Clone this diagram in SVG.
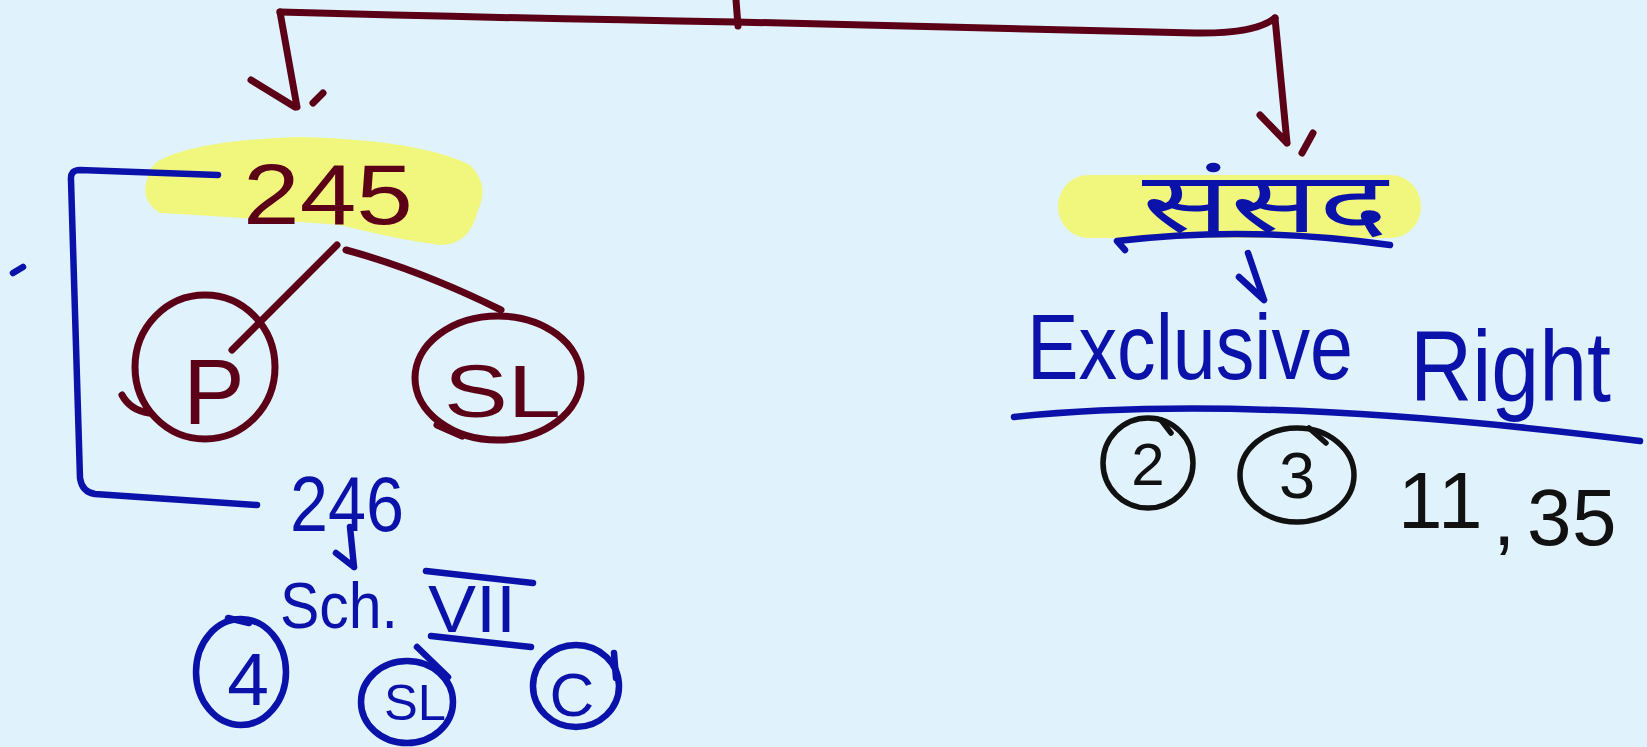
<svg xmlns="http://www.w3.org/2000/svg" width="1647" height="747" viewBox="0 0 1647 747">
<style>
.m{stroke:#5b0016;fill:none;stroke-width:7;stroke-linecap:round;stroke-linejoin:round}
.b{stroke:#0a12aa;fill:none;stroke-width:6.5;stroke-linecap:round;stroke-linejoin:round}
.k{stroke:#111;fill:none;stroke-width:5.5;stroke-linecap:round;stroke-linejoin:round}
.hl{fill:#f1f77d;stroke:none}
.tm{fill:#5b0016;font-family:"Liberation Sans",sans-serif}
.tb{fill:#0a12aa;font-family:"Liberation Sans",sans-serif}
.tk{fill:#111;font-family:"Liberation Sans",sans-serif}
.td{fill:#0a12aa;font-family:"Noto Sans Devanagari","Lohit Devanagari","Noto Sans",sans-serif}
</style>
<rect width="1647" height="747" fill="#e0f2fb"/>
<g id="node-245">
<path class="hl" d="M160,160 Q200,140 300,137 Q420,140 470,165 Q490,185 478,210 Q470,245 440,245 Q400,240 340,225 Q250,218 160,213 Q140,200 147,180 Q150,165 160,160 Z"/>
<text class="tm" x="243" y="224" font-size="85" textLength="170" lengthAdjust="spacingAndGlyphs">245</text>
</g>
<g id="node-P">
<ellipse class="m" cx="205" cy="367" rx="70" ry="72"/>
<path class="m" d="M122,395 Q130,410 149,413"/>
<text class="tm" x="214" y="424" font-size="92" text-anchor="middle">P</text>
</g>
<g id="node-SL">
<ellipse class="m" cx="498" cy="378" rx="83" ry="62"/>
<path class="m" d="M437,425 L462,436" stroke-width="12"/>
<text class="tm" x="444" y="417" font-size="75" textLength="117" lengthAdjust="spacingAndGlyphs">SL</text>
</g>
<g id="node-246">
<text class="tb" x="290" y="531" font-size="78" textLength="114" lengthAdjust="spacingAndGlyphs">246</text>
</g>
<g id="node-sch">
<text class="tb" x="280" y="628" font-size="64" textLength="118" lengthAdjust="spacingAndGlyphs">Sch.</text>
<path class="b" d="M426,571 L533,583 M431,636 L531,647"/>
<text class="tb" x="428" y="632" font-size="66" textLength="88" lengthAdjust="spacingAndGlyphs">VII</text>
</g>
<g id="node-4">
<ellipse class="b" cx="241" cy="672" rx="45" ry="53"/>
<path class="b" d="M228,618 L249,623"/>
<text class="tb" x="248" y="705" font-size="75" text-anchor="middle">4</text>
</g>
<g id="node-SL2">
<ellipse class="b" cx="407" cy="702" rx="46" ry="41"/>
<path class="b" d="M417,647 L448,677"/>
<text class="tb" x="384" y="720" font-size="50" textLength="62" lengthAdjust="spacingAndGlyphs">SL</text>
</g>
<g id="node-C">
<ellipse class="b" cx="576" cy="686" rx="43" ry="41"/>
<path class="b" d="M614,653 L616,678"/>
<text class="tb" x="572" y="716" font-size="62" text-anchor="middle">C</text>
</g>
<g id="node-sansad">
<rect class="hl" x="1058" y="175" width="363" height="63" rx="31"/>
<text class="td" x="1142" y="232" font-size="84" textLength="246" lengthAdjust="spacingAndGlyphs">संसद</text>
<path class="b" d="M1125,250 L1117,241 Q1250,225 1390,245"/>
</g>
<g id="node-exclusive">
<text class="tb" x="1027" y="379" font-size="92" textLength="326" lengthAdjust="spacingAndGlyphs">Exclusive</text>
<text class="tb" x="1410" y="401" font-size="100" textLength="201" lengthAdjust="spacingAndGlyphs">Right</text>
<path class="b" d="M1014,417 Q1251,392 1640,441"/>
</g>
<g id="node-2">
<ellipse class="k" cx="1148" cy="463" rx="45" ry="45"/>
<path class="k" d="M1161,420 L1171,433"/>
<text class="tk" x="1148" y="485" font-size="60" text-anchor="middle">2</text>
</g>
<g id="node-3">
<ellipse class="k" cx="1297" cy="475" rx="57" ry="47"/>
<path class="k" d="M1309,428 L1326,443"/>
<text class="tk" x="1297" y="498" font-size="65" text-anchor="middle">3</text>
</g>
<g id="node-1135">
<text class="tk" font-size="80" x="1398 1438 1493 1527 1572" y="528 528 545 545 545">11,35</text>
</g>
<g id="connectors">
<path class="m" d="M736,0 L738,26"/>
<path class="m" d="M280,12 Q500,18 736,22 Q1000,28 1195,33 Q1255,34 1275,18"/>
<path class="m" d="M280,12 L297,107 M251,80 L295,107 M323,93 L313,103"/>
<path class="m" d="M1275,18 L1287,143 M1260,115 L1287,143 M1313,133 L1302,153"/>
<path class="m" d="M337,245 L232,350"/>
<path class="m" d="M346,250 Q420,270 501,310"/>
<path class="b" d="M218,175 L80,170 Q70,170 71,180 L80,478 Q82,492 95,494 L257,505"/>
<path class="b" d="M350,527 L354,567 M336,553 L354,567"/>
<path class="b" d="M1248,253 L1264,300 M1239,277 L1264,300"/>
<path class="b" d="M13,273 L23,267"/>
</g>
</svg>
